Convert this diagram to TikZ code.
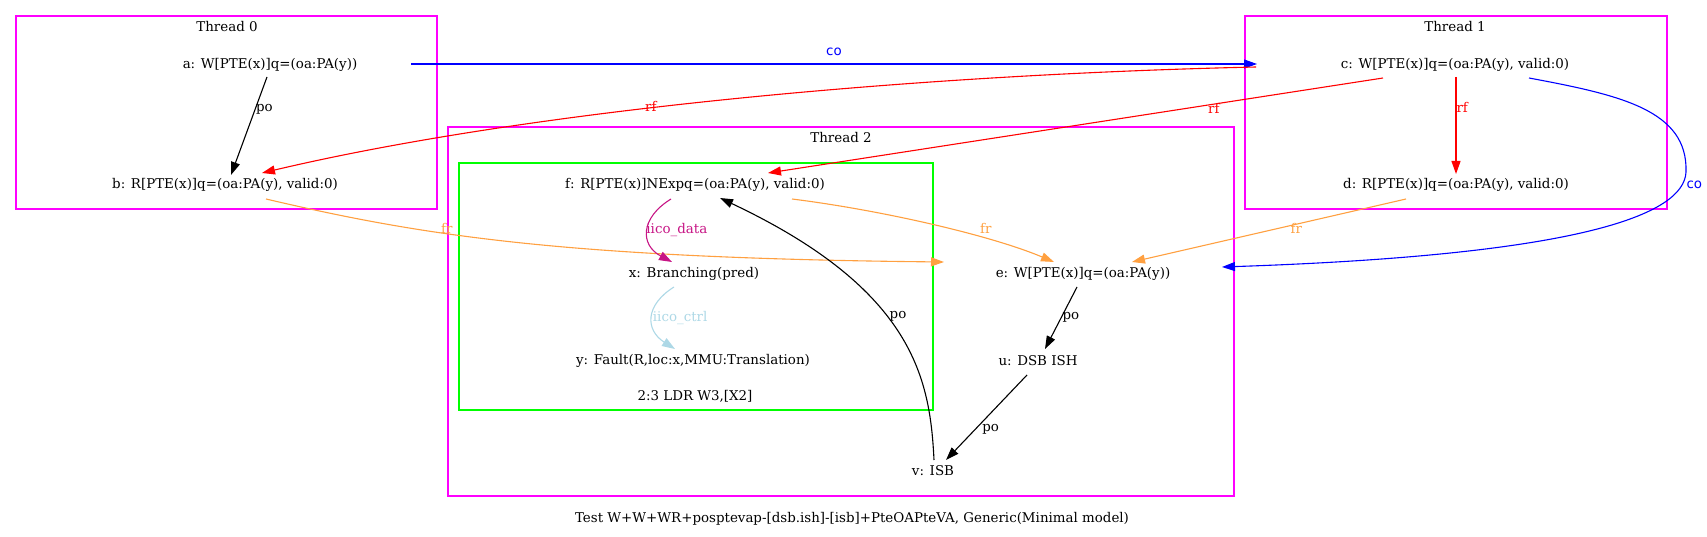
\documentclass[tikz,border=0pt]{standalone}
\usepackage{fontspec}
\setmainfont{DejaVu Serif}
\newfontfamily\cofont{DejaVu Sans}
\usetikzlibrary{calc,arrows.meta}
\definecolor{thcol}{RGB}{255,0,255}
\definecolor{grcol}{RGB}{0,255,0}
\definecolor{frcol}{RGB}{255,160,64}
\definecolor{datacol}{RGB}{199,21,133}
\definecolor{ctrlcol}{RGB}{173,216,230}

\begin{document}
\begin{tikzpicture}[x=1pt,y=-1pt,auto,
  every node/.style={font=\fontsize{13.4}{15}\selectfont,inner sep=0pt},
  ev/.style={text height=9.7pt,text depth=0pt},
  lbl/.style={text height=7pt,text depth=0pt},
  >={Triangle[length=13pt,width=9pt]},
  thread/.style={draw=thcol,line width=1.2pt},
  instr/.style={draw=grcol,line width=1.2pt},
  po/.style={->,line width=1.1pt,black},
  rf/.style={->,line width=1.1pt,red},
  co/.style={->,line width=1.1pt,blue},
  fr/.style={->,line width=1.1pt,frcol},
  iicodata/.style={->,line width=1.1pt,datacol},
  iicoctrl/.style={->,line width=1.1pt,ctrlcol}]
  \useasboundingbox (0,0) rectangle (1707,537);
  \draw[thread] (16,16) rectangle (437,209); \draw[thread] (1245,16) rectangle (1667,209);
  \draw[thread] (448,127) rectangle (1234,496); \draw[instr] (459,163) rectangle (933,410);
  \node[ev] (t0) at (227,27) {Thread 0}; \node[ev] (t1) at (1455,27) {Thread 1}; \node[ev] (t2) at (841,138) {Thread 2};
  \node[ev] (a) at (270,64) {a: W[PTE(x)]q=(oa:PA(y))}; \node[ev] (b) at (225,184) {b: R[PTE(x)]q=(oa:PA(y), valid:0)};
  \node[ev] (c) at (1455,64) {c: W[PTE(x)]q=(oa:PA(y), valid:0)}; \node[ev] (d) at (1456,184) {d: R[PTE(x)]q=(oa:PA(y), valid:0)};
  \node[ev] (f) at (695,184) {f: R[PTE(x)]NExpq=(oa:PA(y), valid:0)}; \node[ev] (x) at (694,273) {x: Branching(pred)};
  \node[ev] (y) at (693,360) {y: Fault(R,loc:x,MMU:Translation)}; \node[ev] (ldr) at (695,396) {2:3 LDR W3,[X2]};
  \node[ev] (e) at (1083,273) {e: W[PTE(x)]q=(oa:PA(y))}; \node[ev] (u) at (1038,361) {u: DSB ISH}; \node[ev] (v) at (933,471) {v: ISB};
  \node[ev] (test) at (852,518) {Test W+W+WR+posptevap-[dsb.ish]-[isb]+PteOAPteVA, Generic(Minimal model)};
  \draw[po] ($(a)+(-3,13)$) to node[lbl,pos=.32,anchor=west] {po} ($(b)+(6,-9)$);
  \draw[co] ($(a)+(141,0)$) to node[lbl,pos=.5,anchor=center,yshift=11.5pt,text=blue] {\cofont co} ($(c)+(-198,0)$);
  \draw[rf] ($(c)+(-199,3)$) .. controls (900,75) and (520,112) .. node[lbl,pos=.57,anchor=center,text=red] {rf} ($(b)+(37,-11)$);
  \draw[rf] ($(c)+(-72,14)$) to node[lbl,pos=.275,anchor=center,yshift=-5.5pt,text=red] {rf} ($(f)+(73,-11)$);
  \draw[rf] ($(c)+(1,13)$) to node[lbl,pos=.335,anchor=west,text=red] {rf} ($(d)+(0,-10)$);
  \draw[co] ($(c)+(74,14)$) .. controls (1620,95) and (1688,110) .. (1686,172) node[lbl,anchor=west,yshift=-13.5pt,text=blue] {\cofont co}
    .. controls (1684,215) and (1580,255) .. ($(e)+(139,-6)$);
  \draw[fr] ($(d)+(-50,15)$) to node[lbl,pos=.4,anchor=center,yshift=-5.5pt,text=frcol] {fr} ($(e)+(49,-11)$);
  \draw[fr] ($(b)+(41,15)$) .. controls (420,235) and (560,258) .. node[lbl,pos=.37,anchor=center,xshift=2.5pt,yshift=3.8pt,text=frcol] {fr} ($(e)+(-139,-11)$);
  \draw[fr] ($(f)+(97,15)$) .. controls (880,210) and (990,235) .. node[lbl,pos=.7,anchor=center,yshift=9pt,text=frcol] {fr} ($(e)+(-29,-11)$);
  \draw[iicodata] ($(f)+(-24,15)$) .. controls (640,218) and (640,245) .. node[lbl,pos=.48,anchor=west,xshift=-2pt,text=datacol] {iico\_data} ($(x)+(-22,-11)$);
  \draw[iicoctrl] ($(x)+(-20,14)$) .. controls (645,305) and (645,330) .. node[lbl,pos=.5,anchor=west,text=ctrlcol] {iico\_ctrl} ($(y)+(-18,-11)$);
  \draw[po] ($(e)+(-6,14)$) to node[lbl,pos=.47,anchor=west] {po} ($(u)+(7,-12)$);
  \draw[po] ($(u)+(-11,14)$) to node[lbl,pos=.62,anchor=west,xshift=5pt] {po} ($(v)+(13,-11)$);
  \draw[po] ($(v)+(1,-11)$) .. controls (930,380) and (915,290) .. node[lbl,pos=.57,anchor=west,xshift=4pt] {po} ($(f)+(25,14)$);
\end{tikzpicture}
\end{document}
